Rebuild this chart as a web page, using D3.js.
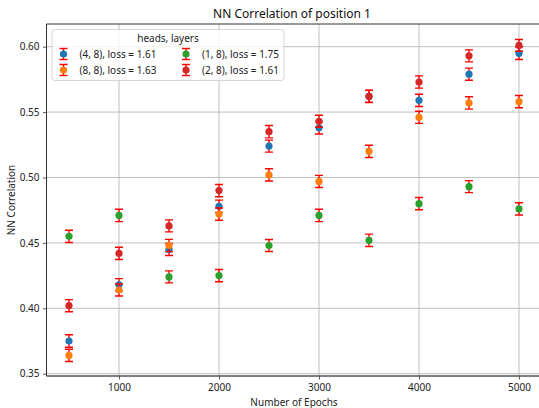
<!DOCTYPE html>
<html>
<head>
<meta charset="utf-8">
<script src="https://cdnjs.cloudflare.com/ajax/libs/d3/7.8.5/d3.min.js"></script>
<style>
  body { margin: 0; background: #fff; }
  svg { font-family: "Noto Sans", sans-serif; display: block; }
</style>
</head>
<body>
<svg id="chart"></svg>
<script>

// epochs on the x axis
var epochs = [500, 1000, 1500, 2000, 2500, 3000, 3500, 4000, 4500, 5000];

// legend labels, same order as they are plotted
var labels = ["(4, 8), loss = 1.61", "(8, 8), loss = 1.63", "(1, 8), loss = 1.75", "(2, 8), loss = 1.61"];

// mean correlation per run
var blueVals   = [0.375, 0.418, 0.445, 0.478, 0.524, 0.538, 0.562, 0.559, 0.579, 0.595];
var orangeVals = [0.364, 0.414, 0.448, 0.472, 0.502, 0.497, 0.520, 0.546, 0.557, 0.558];
var greenVals  = [0.455, 0.471, 0.424, 0.425, 0.448, 0.471, 0.452, 0.480, 0.493, 0.476];
var redVals    = [0.402, 0.442, 0.463, 0.490, 0.535, 0.543, 0.562, 0.573, 0.593, 0.601];

// error half widths
var blueErr   = [0.0048, 0.0047, 0.0046, 0.0047, 0.0046, 0.0047, 0.0046, 0.0047, 0.0046, 0.0048];
var orangeErr = [0.0047, 0.0046, 0.0047, 0.0047, 0.0047, 0.0046, 0.0047, 0.0046, 0.0047, 0.0047];
var greenErr  = [0.0047, 0.0047, 0.0046, 0.0047, 0.0046, 0.0047, 0.0047, 0.0047, 0.0046, 0.0047];
var redErr    = [0.0046, 0.0047, 0.0046, 0.0047, 0.0047, 0.0046, 0.0047, 0.0047, 0.0046, 0.0045];

var xTicks = [1000, 2000, 3000, 4000, 5000];
var yTicks = [0.35, 0.40, 0.45, 0.50, 0.55, 0.60];

var colors = ["#1f77b4", "#ff7f0e", "#2ca02c", "#d62728"];

var series = [
  {name: labels[0], color: colors[0], vals: blueVals, err: blueErr},
  {name: labels[1], color: colors[1], vals: orangeVals, err: orangeErr},
  {name: labels[2], color: colors[2], vals: greenVals, err: greenErr},
  {name: labels[3], color: colors[3], vals: redVals, err: redErr}
];

var width = 539
  , height = 408
  , plotLeft = 46.5
  , plotRight = 541.5
  , plotTop = 24
  , plotBottom = 376
  , cap = 4
  , radius = 3.6
  , font = "Noto Sans";

var svg = d3.select("#chart").attr("width", width).attr("height", height);

// scales, matplotlib style 5% padding
var x = d3.scaleLinear().domain([275, 5225]).range([plotLeft, plotRight]);
var y = d3.scaleLinear().domain([0.34824, 0.61735]).range([plotBottom, plotTop]);

svg.append("clipPath").attr("id", "clip")
  .append("rect").attr("x", plotLeft).attr("y", plotTop)
  .attr("width", plotRight - plotLeft).attr("height", plotBottom - plotTop);

// grid lines
var grid = svg.append("g").attr("clip-path", "url(#clip)");
grid.selectAll(".gx").data(xTicks).enter().append("line")
  .attr("x1", function(d){ return x(d); }).attr("x2", function(d){ return x(d); })
  .attr("y1", plotTop).attr("y2", plotBottom)
  .attr("stroke", "#b0b0b0").attr("stroke-width", 0.8);
grid.selectAll(".gy").data(yTicks).enter().append("line")
  .attr("x1", plotLeft).attr("x2", plotRight)
  .attr("y1", function(d){ return y(d); }).attr("y2", function(d){ return y(d); })
  .attr("stroke", "#b0b0b0").attr("stroke-width", 0.8);

// axes
var xAxis = d3.axisBottom(x).tickValues(xTicks).tickFormat(d3.format("d")).tickSizeOuter(0).tickSize(3.5).tickPadding(4);
var yAxis = d3.axisLeft(y).tickValues(yTicks).tickFormat(d3.format(".2f")).tickSizeOuter(0).tickSize(3.5).tickPadding(3.5);

var gx = svg.append("g").attr("transform", "translate(0," + plotBottom + ")").call(xAxis);
var gy = svg.append("g").attr("transform", "translate(" + plotLeft + ",0)").call(yAxis);

[gx, gy].forEach(function(g){
  g.select(".domain").remove();
  g.selectAll(".tick line").attr("stroke", "#333").attr("stroke-width", 0.8);
  g.selectAll(".tick text").attr("fill", "#222").attr("font-size", 10).attr("font-family", font);
});

// spines
svg.append("line").attr("x1", plotLeft).attr("x2", plotLeft).attr("y1", plotTop).attr("y2", plotBottom)
  .attr("stroke", "#333").attr("stroke-width", 1);
svg.append("line").attr("x1", plotLeft).attr("x2", plotRight).attr("y1", plotBottom).attr("y2", plotBottom)
  .attr("stroke", "#555").attr("stroke-width", 1.6);
svg.append("line").attr("x1", plotLeft).attr("x2", plotRight).attr("y1", plotTop).attr("y2", plotTop)
  .attr("stroke", "#333").attr("stroke-width", 1);

// points with error bars, one group per run
var plot = svg.append("g").attr("clip-path", "url(#clip)");

series.forEach(function(s){
  var pts = epochs.map(function(e, i){ return {x: e, y: s.vals[i], e: s.err[i]}; });
  var g = plot.append("g");

  var bars = g.selectAll(".bar").data(pts).enter().append("g")
    .attr("stroke", "red").attr("stroke-width", 1.4);
  bars.append("line")
    .attr("x1", function(d){ return x(d.x); }).attr("x2", function(d){ return x(d.x); })
    .attr("y1", function(d){ return y(d.y - d.e); }).attr("y2", function(d){ return y(d.y + d.e); });
  bars.append("line")
    .attr("x1", function(d){ return x(d.x) - cap; }).attr("x2", function(d){ return x(d.x) + cap; })
    .attr("y1", function(d){ return y(d.y - d.e); }).attr("y2", function(d){ return y(d.y - d.e); });
  bars.append("line")
    .attr("x1", function(d){ return x(d.x) - cap; }).attr("x2", function(d){ return x(d.x) + cap; })
    .attr("y1", function(d){ return y(d.y + d.e); }).attr("y2", function(d){ return y(d.y + d.e); });

  g.selectAll("circle").data(pts).enter().append("circle")
    .attr("cx", function(d){ return x(d.x); })
    .attr("cy", function(d){ return y(d.y); })
    .attr("r", radius)
    .attr("fill", s.color);
});

// title and axis labels
svg.append("text").attr("x", 292).attr("y", 18).attr("text-anchor", "middle")
  .attr("font-size", 12).attr("fill", "#111").text("NN Correlation of position 1");
svg.append("text").attr("x", 294).attr("y", 406).attr("text-anchor", "middle")
  .attr("font-size", 10).attr("fill", "#222").text("Number of Epochs");
svg.append("text").attr("transform", "translate(15," + ((plotTop + plotBottom) / 2) + ") rotate(-90)")
  .attr("text-anchor", "middle").attr("font-size", 10).attr("fill", "#222").text("NN Correlation");

// legend, two columns filled column first
var legend = svg.append("g");
legend.append("rect").attr("x", 52).attr("y", 29.5).attr("width", 232).attr("height", 51)
  .attr("rx", 3).attr("fill", "#fff").attr("fill-opacity", 0.8)
  .attr("stroke", "#cccccc").attr("stroke-width", 0.8);
legend.append("text").attr("x", 168).attr("y", 42).attr("text-anchor", "middle")
  .attr("font-size", 10).attr("fill", "#222").text("heads, layers");

var item = legend.selectAll(".item").data(series).enter().append("g")
  .attr("transform", function(d, i){
    var col = Math.floor(i / 2), row = i % 2;
    return "translate(" + (63.5 + col * 122.5) + "," + (54 + row * 16) + ")";
  });
item.append("line").attr("x1", 0).attr("x2", 0).attr("y1", -5.5).attr("y2", 5.5)
  .attr("stroke", "red").attr("stroke-width", 1.4);
item.append("line").attr("x1", -cap).attr("x2", cap).attr("y1", -5.5).attr("y2", -5.5)
  .attr("stroke", "red").attr("stroke-width", 1.4);
item.append("line").attr("x1", -cap).attr("x2", cap).attr("y1", 5.5).attr("y2", 5.5)
  .attr("stroke", "red").attr("stroke-width", 1.4);
item.append("circle").attr("r", radius).attr("fill", function(d){ return d.color; });
item.append("text").attr("x", 16).attr("y", 3.5)
  .attr("font-size", 10).attr("fill", "#222").text(function(d){ return d.name; });

</script>
</body>
</html>
